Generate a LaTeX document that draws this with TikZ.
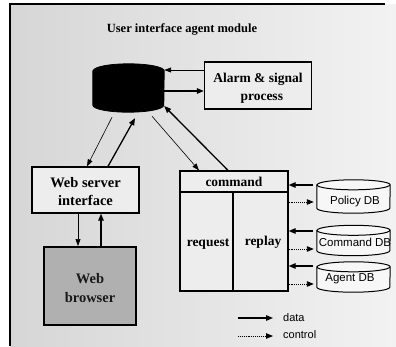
\documentclass[tikz,border=0pt]{standalone}
\usepackage{fontspec}
\setmainfont{Liberation Serif}
\setsansfont{Liberation Sans}
\usetikzlibrary{arrows.meta}

\tikzset{
  box/.style={draw=black, line width=1.3pt, fill=gray!14, inner sep=0pt},
  boxtext/.style={font=\bfseries\fontsize{13.5}{18}\selectfont, align=center, inner sep=0pt},
  dbframe/.style={inner sep=0pt, minimum width=73pt},
  dbline/.style={draw=black, line width=1pt, fill=gray!6},
  dbtext/.style={font=\sffamily\fontsize{11.5}{13}\selectfont, inner sep=0pt},
  data/.style={line width=1.3pt, -{Triangle[length=7pt,width=5.5pt]}},
  control/.style={line width=0.9pt, densely dotted, -{Triangle[length=7pt,width=5.5pt]}},
  thin link/.style={line width=0.6pt, -{Triangle[length=7pt,width=5pt]}},
  legendtext/.style={font=\sffamily\fontsize{11}{13}\selectfont, anchor=west, inner sep=0pt}
}

% cylinder outline around a named node: #1 node, #2 half width, #3 rim radius, #4 style
\newcommand\cylinderaround[4]{%
  \path[#4] ([yshift=-#3]#1.north west) -- ([yshift=#3]#1.south west)
    arc[start angle=180, end angle=360, x radius=#2, y radius=#3]
    -- ([yshift=-#3]#1.north east)
    arc[start angle=0, end angle=180, x radius=#2, y radius=#3] -- cycle;}

\begin{document}
\begin{tikzpicture}[x=1pt, y=-1pt]
  \useasboundingbox (0,0) rectangle (396,346);

  % halftone-like grey ground and frame
  \shade[left color=gray!32, right color=gray!10] (10,4) rectangle (396,346);
  \draw[line width=1.5pt] (10,346) -- (10,4) -- (385,4);

  % title
  \node[font=\bfseries\fontsize{12.5}{14}\selectfont, inner sep=0pt] (title) at (182,29)
    {User interface agent module};

  % central agent store (solid black drum)
  \node[inner sep=0pt, minimum width=71pt, minimum height=48pt] (hub) at (128.5,88) {};
  \cylinderaround{hub}{35.5pt}{7pt}{fill=black, draw=black, line width=0.8pt}

  % alarm box
  \node[box, minimum width=107pt, minimum height=47pt] (alarm) at (258,85.5) {};
  \node[boxtext] (alarmtext) at (258,88) {Alarm \& signal\\\phantom{ii}process};

  % web server interface
  \node[box, minimum width=107pt, minimum height=46pt] (wsi) at (85.5,190) {};
  \node[boxtext, font=\bfseries\fontsize{14.5}{18}\selectfont] (wsitext) at (85.5,192)
    {Web server\\interface};

  % web browser
  \node[draw=black, line width=2pt, fill=gray!62, minimum width=92pt, minimum height=78pt,
        inner sep=0pt] (web) at (89.5,286) {};
  \node[boxtext, text=black!90, font=\bfseries\fontsize{14.5}{19}\selectfont] (webtext)
    at (90,288) {Web\\browser};

  % command block
  \node[box, minimum width=108pt, minimum height=120pt] (cmd) at (234,231) {};
  \draw[line width=1.3pt] (cmd.west |- 0,192) -- (cmd.east |- 0,192);
  \draw[line width=1.3pt] (cmd.south -| 233,0) -- (233,192);
  \node[boxtext] (cmdtext) at (234,182) {command};
  \node[boxtext] (reqtext) at (208,244) {request};
  \node[boxtext] (reptext) at (263,242) {replay};

  % databases
  \node[dbframe, minimum height=33pt] (policy) at (353.5,196.5) {};
  \cylinderaround{policy}{36.5pt}{5pt}{dbline}
  \draw[line width=1pt] ([yshift=-5pt]policy.north west)
    arc[start angle=180, end angle=360, x radius=36.5pt, y radius=5pt];
  \node[dbtext] (policytext) at (355,202) {Policy DB};

  \node[dbframe, minimum height=30pt] (cmddb) at (353.5,240.5) {};
  \cylinderaround{cmddb}{36.5pt}{5pt}{dbline}
  \draw[line width=1pt] ([yshift=-5pt]cmddb.north west)
    arc[start angle=180, end angle=360, x radius=36.5pt, y radius=5pt];
  \node[dbtext] (cmddbtext) at (355,242) {Command DB};

  \node[dbframe, minimum height=30pt] (agent) at (353.5,277) {};
  \cylinderaround{agent}{36.5pt}{5pt}{dbline}
  \draw[line width=1pt] ([yshift=-5pt]agent.north west)
    arc[start angle=180, end angle=360, x radius=36.5pt, y radius=5pt];
  \node[dbtext] (agenttext) at (350,279) {Agent DB};

  % hub <-> alarm
  \draw[thin link] (alarm.west |- 0,70) -- (hub.east |- 0,70);
  \draw[data] (hub.east |- 0,91) -- (alarm.west |- 0,91);

  % hub <-> web server interface
  \draw[thin link] ([xshift=-16.5pt, yshift=-5pt]hub.south) -- ([xshift=1.5pt]wsi.north);
  \draw[data] ([xshift=22.5pt]wsi.north) -- ([xshift=6.5pt, yshift=-6pt]hub.south);

  % hub <-> command block
  \draw[thin link] ([xshift=23.5pt, yshift=-4pt]hub.south) -- ([xshift=-35pt]cmd.north);
  \draw[data] ([xshift=-6pt]cmd.north) -- ([yshift=-18pt]hub.east);

  % web server interface <-> browser
  \draw[thin link] (wsi.south -| 78,0) -- (web.north -| 78,0);
  \draw[data] (web.north -| 101,0) -- (wsi.south -| 101,0);

  % databases <-> command block
  \draw[data, shorten <=4pt] (policy.west |- 0,185) -- (cmd.east |- 0,185);
  \draw[control, shorten >=3pt] (cmd.east |- 0,202) -- (policy.west |- 0,202);
  \draw[data, shorten <=4pt] (cmddb.west |- 0,231) -- (cmd.east |- 0,231);
  \draw[control, shorten >=3pt] (cmd.east |- 0,249) -- (cmddb.west |- 0,249);
  \draw[data, shorten <=4pt] (agent.west |- 0,266) -- (cmd.east |- 0,266);
  \draw[control, shorten >=3pt] (cmd.east |- 0,284) -- (agent.west |- 0,284);

  % legend
  \coordinate (d1) at (238,318);
  \coordinate (d2) at (273,318);
  \coordinate (c1) at (238,336);
  \coordinate (c2) at (273,336);
  \draw[data] (d1) -- (d2);
  \draw[control] (c1) -- (c2);
  \node[legendtext] (ldata) at (283,318) {data};
  \node[legendtext] (lctrl) at (283,335) {control};
\end{tikzpicture}
\end{document}
